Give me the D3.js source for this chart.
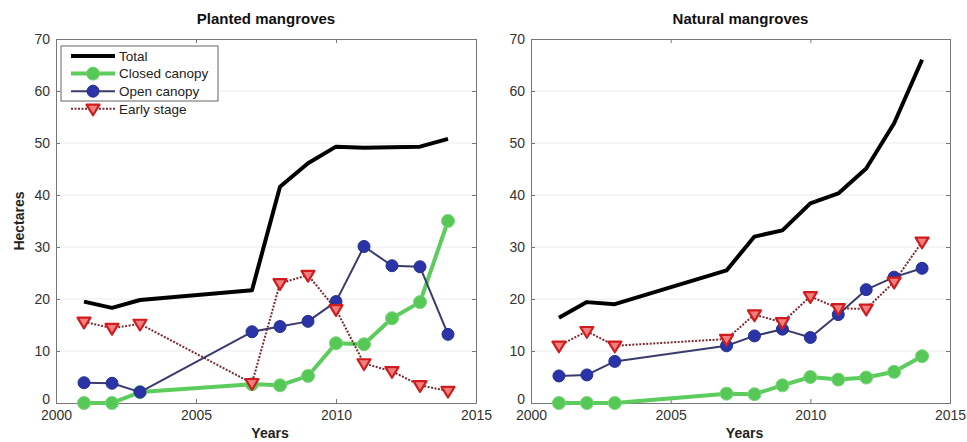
<!DOCTYPE html>
<html><head><meta charset="utf-8">
<script src="https://cdn.jsdelivr.net/npm/d3@7"></script>
<style>body{margin:0;background:#fff;}svg{display:block;font-family:"Liberation Sans",Arial,sans-serif;}</style>
</head><body><svg id="c" width="967" height="442"></svg>
<script>
const years = [2001, 2002, 2003, 2007, 2008, 2009, 2010, 2011, 2012, 2013, 2014];
const xTicks = [2000, 2005, 2010, 2015];
const yTicks = [0, 10, 20, 30, 40, 50, 60, 70];
const seriesNames = ["Total", "Closed canopy", "Open canopy", "Early stage"];

const plantedTotal  = [19.5, 18.3, 19.8, 21.7, 41.6, 46.1, 49.3, 49.1, 49.2, 49.3, 50.8];
const plantedClosed = [0.0, 0.0, 2.1, 3.6, 3.4, 5.2, 11.5, 11.3, 16.3, 19.4, 35.0];
const plantedOpen   = [3.9, 3.8, 2.1, 13.7, 14.7, 15.7, 19.5, 30.1, 26.4, 26.2, 13.2];
const plantedEarly  = [15.6, 14.4, 15.2, 3.8, 23.0, 24.6, 18.0, 7.6, 6.1, 3.4, 2.3];

const naturalTotal  = [16.4, 19.4, 19.0, 25.5, 32.0, 33.2, 38.4, 40.3, 45.1, 53.8, 66.0];
const naturalClosed = [0.0, 0.0, 0.0, 1.8, 1.7, 3.4, 5.0, 4.5, 4.9, 6.0, 9.0];
const naturalOpen   = [5.2, 5.4, 8.0, 11.0, 12.9, 14.2, 12.6, 17.0, 21.8, 24.2, 25.9];
const naturalEarly  = [11.0, 13.8, 11.0, 12.3, 17.0, 15.5, 20.5, 18.2, 18.1, 23.3, 31.0];

const panels = [
  {title: "Planted mangroves", x0: 56, x1: 476, data: [plantedTotal, plantedClosed, plantedOpen, plantedEarly], ylab: true, legend: true},
  {title: "Natural mangroves", x0: 531, x1: 950, data: [naturalTotal, naturalClosed, naturalOpen, naturalEarly], ylab: false, legend: false}
];
const yTop = 39, yBot = 403;
const svg = d3.select("#c");

const styles = [
  {stroke: "#000", width: 4, dash: null, marker: null},
  {stroke: "#5ccc5c", width: 4, dash: null, marker: "circle", fill: "#55c855", r: 6.5, mstroke: "#7ad67a"},
  {stroke: "#3a3a6e", width: 2, dash: null, marker: "circle", fill: "#2a34a8", r: 6, mstroke: "#22308a"},
  {stroke: "#7a2a30", width: 2, dash: "2,1.5", marker: "tri", fill: "#f08080", r: 6.5, mstroke: "#d01c1c"}
];

function drawMarker(g, s, cx, cy) {
  if (s.marker === "circle") {
    g.append("circle").attr("cx", cx).attr("cy", cy).attr("r", s.r)
      .attr("fill", s.fill).attr("stroke", s.mstroke).attr("stroke-width", 1);
  } else if (s.marker === "tri") {
    const r = s.r;
    g.append("path").attr("d", `M${cx - r},${cy - r * 0.65}L${cx + r},${cy - r * 0.65}L${cx},${cy + r}Z`)
      .attr("fill", s.fill).attr("stroke", s.mstroke).attr("stroke-width", 2.2).attr("stroke-linejoin", "round");
  }
}

panels.forEach(p => {
  const x = d3.scaleLinear().domain([2000, 2015]).range([p.x0, p.x1]);
  const y = d3.scaleLinear().domain([0, 70]).range([yBot, yTop]);
  const g = svg.append("g");

  // grid
  g.append("g").selectAll("line").data(yTicks.slice(1, -1)).join("line")
    .attr("x1", p.x0).attr("x2", p.x1).attr("y1", d => y(d)).attr("y2", d => y(d))
    .attr("stroke", "#ececec").attr("stroke-width", 1);

  // axes
  const ax = g.append("g").attr("transform", `translate(0,${yBot})`)
    .call(d3.axisBottom(x).tickValues(xTicks).tickFormat(d3.format("d")).tickSizeInner(-4).tickSizeOuter(0).tickPadding(8));
  const axT = g.append("g").attr("transform", `translate(0,${yTop})`)
    .call(d3.axisTop(x).tickValues(xTicks).tickFormat("").tickSizeInner(-4).tickSizeOuter(0));
  const ay = g.append("g").attr("transform", `translate(${p.x0},0)`)
    .call(d3.axisLeft(y).tickValues(yTicks).tickSizeInner(-4).tickSizeOuter(0).tickPadding(6));
  const ayR = g.append("g").attr("transform", `translate(${p.x1},0)`)
    .call(d3.axisRight(y).tickValues(yTicks).tickFormat("").tickSizeInner(-4).tickSizeOuter(0));
  [ax, axT, ay, ayR].forEach(a => {
    a.select(".domain").attr("stroke", "#777").attr("stroke-width", 1);
    a.selectAll(".tick line").attr("stroke", "#777");
    a.selectAll("text").attr("font-size", 14).attr("fill", "#333");
  });
  ax.selectAll("text").attr("dy", "0.62em");
  ay.selectAll(".tick text").filter(d => d === 0).attr("dy", "0.05em");

  // title & labels
  g.append("text").attr("x", (p.x0 + p.x1) / 2).attr("y", 24).attr("text-anchor", "middle")
    .attr("font-size", 15).attr("font-weight", "bold").attr("fill", "#111").text(p.title);
  g.append("text").attr("x", (p.x0 + p.x1) / 2 + 4).attr("y", 438).attr("text-anchor", "middle")
    .attr("font-size", 14).attr("font-weight", "bold").attr("fill", "#222").text("Years");
  if (p.ylab) {
    g.append("text").attr("transform", `translate(24,${(yTop + yBot) / 2}) rotate(-90)`).attr("text-anchor", "middle")
      .attr("font-size", 14).attr("font-weight", "bold").attr("fill", "#222").text("Hectares");
  }

  // series (draw order: total, closed, open, early)
  p.data.forEach((vals, i) => {
    const s = styles[i];
    const line = d3.line().x((d, j) => x(years[j])).y(d => y(d));
    g.append("path").datum(vals).attr("d", line).attr("fill", "none")
      .attr("stroke", s.stroke).attr("stroke-width", s.width).attr("stroke-dasharray", s.dash)
      .attr("stroke-linejoin", "round");
    if (s.marker) {
      const mg = g.append("g");
      vals.forEach((v, j) => drawMarker(mg, s, x(years[j]), y(v)));
    }
  });

  // legend
  if (p.legend) {
    const lg = g.append("g");
    lg.append("rect").attr("x", 61).attr("y", 46).attr("width", 157).attr("height", 55)
      .attr("fill", "#fff").attr("stroke", "#666").attr("stroke-width", 1);
    seriesNames.forEach((name, i) => {
      const s = styles[i];
      const ly = 56 + i * 17.6;
      lg.append("line").attr("x1", 71).attr("x2", 115).attr("y1", ly).attr("y2", ly)
        .attr("stroke", s.stroke).attr("stroke-width", s.width).attr("stroke-dasharray", s.dash);
      if (s.marker) drawMarker(lg, s, 93, ly);
      lg.append("text").attr("x", 119).attr("y", ly).attr("dy", "0.35em")
        .attr("font-size", 13.5).attr("fill", "#222").text(name);
    });
  }
});
</script></body></html>
